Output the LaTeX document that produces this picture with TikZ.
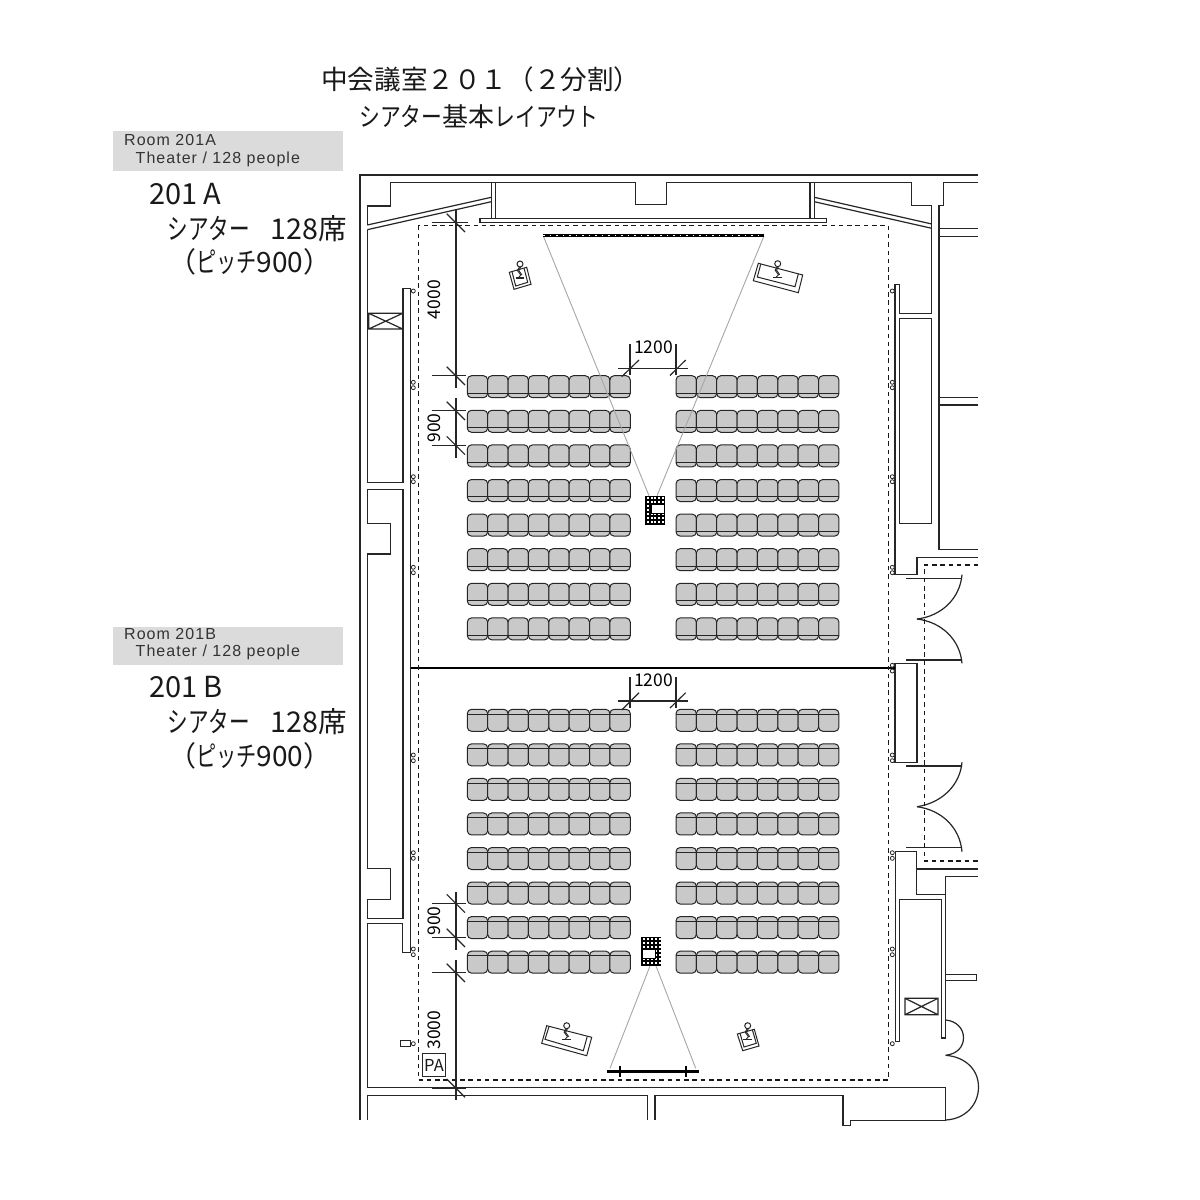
\documentclass[tikz,border=0pt]{standalone}
\usepackage{fontspec}
\setmainfont{Liberation Sans}
\newfontfamily\jpf{Noto Sans CJK JP}
\newfontfamily\jpk{Noto Sans CJK JP}[FakeStretch=0.72]
\newfontfamily\jpt{Noto Sans CJK JP}[FakeStretch=0.8]
\newfontfamily\jpn{Noto Sans CJK JP}[FakeStretch=0.72]
\newfontfamily\enf{Liberation Sans}[LetterSpace=6.5]
\newcommand{\fs}[1]{\fontsize{#1pt}{#1pt}\selectfont}
\usetikzlibrary{calc}
\tikzset{
  wall/.style={draw=black!85,line width=1.2pt,line join=miter},
  thin wall/.style={draw=black!85,line width=1pt},
  room/.style={draw=black!90,line width=1.3pt,dash pattern=on 4.5pt off 3.8pt},
  dim/.style={draw=black!85,line width=1.15pt},
  beam/.style={draw=black!35,line width=0.9pt},
  seat/.style={draw=black!85,fill=black!21,line width=1pt,rounded corners=4.2pt},
  anchorpt/.style={draw=black!85,fill=white,line width=0.8pt},
  hdr/.style={fill=black!14,draw=none},
  jp/.style={anchor=west,inner sep=0pt,font=\jpf,text=black!90},
  en/.style={anchor=west,inner sep=0pt,font=\enf\fs{16},text=black!80},
  dimtext/.style={inner sep=0pt,font=\jpf\fs{17.5},text=black},
}
\newcommand{\figperson}[2]{%
  \begin{scope}[shift={(#1,#2)}]
    \draw[thin wall,fill=white] (0,0) circle (3);
    \draw[thin wall,line width=0.9pt] (-0.5,3) -- (-2.6,6.5) -- (0.8,11) -- (-1.5,13.5);
    \draw[thin wall,line width=0.9pt] (0.7,3) -- (-1.2,6.5) -- (2,11);
    \draw[thin wall,line width=1.1pt] (-4.3,14) -- (4,14);
  \end{scope}}
\newcommand{\seatrow}[3]{% x, y top, divider offset
  \foreach \k in {0,...,7}{
    \pgfmathsetmacro{\sx}{#1+\k*20.37}
    \draw[seat] (\sx,#2) rectangle ++(20.37,22);
    \draw[thin wall] (\sx,#2+#3) -- ++(20.37,0);
  }}
\newcommand{\tick}[2]{%
  \draw[dim] (431.7,#1) -- (#2,#1);
  \draw[dim] (446.7,#1-9) -- (465,#1+9.3);}
\begin{document}
\begin{tikzpicture}[x=1pt,y=-1pt]
\useasboundingbox (0,0) rectangle (1200,1200);
\fill[white] (0,0) rectangle (1200,1200);

% outer walls
\draw[wall] (978,175) -- (360,175) -- (360,1120);
\draw[wall] (367.3,229.7) -- (367.3,482.3) -- (403,482.3) -- (403,288.3) -- (410.7,288.3) -- (410.7,952.3) -- (402.7,952.3) -- (402.7,923.3) -- (367.3,923.3) -- (367.3,1087.5) -- (945.7,1087.5);
\draw[wall] (367.3,225) -- (367.3,206) -- (390.3,206) -- (390.3,182.7) -- (635.7,182.7) -- (635.7,204.3) -- (666.3,204.3) -- (666.3,182.7) -- (911.7,182.7) -- (911.7,205.7) -- (931.7,205.7) -- (931.7,313.3) -- (899.3,313.3) -- (899.3,284.3) -- (895,284.3) -- (895,574.7) -- (917,574.7) -- (917,557.3) -- (978,557.3);
\draw[wall] (978,182.7) -- (943.3,182.7) -- (943.3,205.7) -- (939,205.7) -- (939,549.7) -- (978,549.7);
\draw[wall] (939,228.3) -- (978,228.3) (939,236.3) -- (978,236.3) (939,397.7) -- (978,397.7) (939,405) -- (978,405);
\draw[wall] (899.3,318.3) rectangle (931.7,523.3);
% left chase
\draw[wall] (367.3,489.3) -- (403,489.3) -- (403,918.3) -- (367.3,918.3) -- (367.3,899.3) -- (390.7,899.3) -- (390.7,868.7) -- (367.3,868.7) -- (367.3,554) -- (390.7,554) -- (390.7,523.3) -- (367.3,523.3) -- cycle;
\draw[wall] (368.7,313.3) rectangle (402.7,329) (368.7,313.3) -- (402.7,329) (368.7,329) -- (402.7,313.3);
% top slanted walls and screen box
\draw[wall] (367.3,225) -- (491.3,197.3) (367.3,229.7) -- (491.3,201.7);
\draw[wall] (814.3,197.3) -- (931.7,224) (814.3,201.7) -- (931.7,228.3);
\draw[wall] (491.3,182.7) -- (491.3,218.3) (495.7,182.7) -- (495.7,218.3);
\draw[wall] (810,182.7) -- (810,218.3) (814.3,182.7) -- (814.3,218.3);
\draw[wall] (480,218.3) rectangle (826.7,222.7);
% right pillars, doors
\draw[wall] (895,663.3) rectangle (917,762.3);
\draw[wall] (906,578.3) -- (962,578.3) (906,660) -- (962,660) (906,766) -- (962,766) (906,847.7) -- (962,847.7);
\draw[wall] (962,574.7) .. controls (960,598) and (942,616) .. (917,619);
\draw[wall] (917,619) .. controls (942,622) and (960,640) .. (962,663.3);
\draw[wall] (962,762.3) .. controls (960,785) and (942,803) .. (917,806.7);
\draw[wall] (917,806.7) .. controls (942,810) and (960,828) .. (962,851.7);
\draw[room] (978,565) -- (924.3,565) -- (924.3,861) -- (978,861);
% lower right
\draw[wall] (895.3,851.7) -- (895.3,1041.3) -- (899.3,1041.3) -- (899.3,899.3) -- (941.7,899.3) -- (941.7,1038) -- (945.7,1038) -- (945.7,876.3) -- (978,876.3);
\draw[wall] (895.3,851.7) -- (916.5,851.7) -- (916.5,894.3) -- (945.7,894.3) (916.5,869) -- (978,869);
\draw[wall] (945.7,974.3) rectangle (976.7,980.3);
\draw[wall] (905,998.3) rectangle (938,1014.7) (905,998.3) -- (938,1014.7) (905,1014.7) -- (938,998.3);
\draw[wall] (945.7,1020) .. controls (957,1021) and (963.5,1029) .. (963.5,1037.7) .. controls (963.5,1047) and (957,1054) .. (945.7,1055.3);
\draw[wall] (945.7,1055.3) .. controls (966,1057) and (978.5,1070) .. (978.5,1087) .. controls (978.5,1105) and (965,1119) .. (945.7,1120);
\draw[wall] (945.7,1087.5) -- (945.7,1120.5) -- (850.7,1120.5) -- (850.7,1125.7) -- (843,1125.7) -- (843,1095.3) -- (655,1095.3) -- (655,1120);
\draw[wall] (367.3,1120) -- (367.3,1095.3) -- (647.7,1095.3) -- (647.7,1120);

% partition
\draw[draw=black,line width=1.8pt] (410.7,668.3) -- (895,668.3);
% room outline
\draw[room] (418.3,225.3) rectangle (888.3,1080);

% wall anchors
\foreach \y in {291,382.3,387.7,476.7,481.7,567.3,572.7,755,760.7,852.7,858.3,949,954.7,1043.7}{
  \draw[anchorpt] (413.3,\y) circle (2);
  \draw[anchorpt] (892.3,\y) circle (2);}
\foreach \y in {665.3,671}{\draw[anchorpt] (892.3,\y) circle (2);}

% seats
\foreach \r in {0,...,7}{
  \pgfmathsetmacro{\ya}{375.7+\r*34.6}
  \pgfmathsetmacro{\yb}{709.3+\r*34.55}
  \seatrow{467.3}{\ya}{17.3}
  \seatrow{676}{\ya}{17.3}
  \seatrow{467.3}{\yb}{4.7}
  \seatrow{676}{\yb}{4.7}
}

% screens and projection beams
\draw[beam] (543.3,236) -- (649,495.7) (764,236) -- (657,495.7);
\draw[beam] (650,966) -- (610,1068.3) (656,966) -- (695.7,1068.3);
\draw[draw=black,line width=2.8pt] (543.3,235.7) -- (764,235.7);
\draw[draw=white,line width=0.7pt,dash pattern=on 1.5pt off 5pt] (543.3,235.7) -- (764,235.7);
\draw[draw=black,line width=3pt] (607.3,1071.3) -- (699,1071.3);
\draw[draw=black,line width=2pt] (620,1065.7) -- (620,1077.3) (685.7,1065.7) -- (685.7,1077.3);

% projectors
\fill[black] (645,495.7) rectangle (665,525);
\foreach \i in {0,...,4}{\foreach \j in {0,...,6}{
  \fill[white] (646.6+\i*3.9,497.4+\j*3.95) rectangle ++(2,2);}}
\draw[draw=black,fill=white,line width=1pt] (651.7,504) rectangle (664.3,513.3);
\fill[black] (641.3,936.7) rectangle (661.3,966);
\foreach \i in {0,...,4}{\foreach \j in {0,...,6}{
  \fill[white] (642.9+\i*3.9,938.4+\j*3.95) rectangle ++(2,2);}}
\draw[draw=black,fill=white,line width=1pt] (642.9,949) rectangle (655.7,958.3);

% tables with speakers
\draw[thin wall] (509.3,272.3) -- (526.7,267.3) -- (531,284.3) -- (514,289.3) -- cycle;
\draw[thin wall] (512,271.7) -- (515.7,286) -- (527.7,282.3) -- (524,268);
\figperson{520}{264}
\draw[thin wall] (758.3,263.3) -- (802.7,275) -- (798.3,292.7) -- (753.3,280.7) -- cycle;
\draw[thin wall] (760.7,264.3) -- (757.3,277) -- (795,286.7) -- (798.3,274);
\figperson{777.7}{263.7}
\draw[thin wall] (546.7,1025.7) -- (591.7,1037.3) -- (586.7,1055.7) -- (541.7,1043.3) -- cycle;
\draw[thin wall] (549,1026.7) -- (545,1039.3) -- (583.3,1050.7) -- (587.3,1036.3);
\figperson{566.7}{1025.7}
\draw[thin wall] (737.3,1034) -- (754.3,1029.3) -- (759,1046) -- (742.7,1050.7) -- cycle;
\draw[thin wall] (740,1033.3) -- (744,1047) -- (756.3,1043.3) -- (752.3,1029.7);
\figperson{747.7}{1025.7}

% PA
\draw[thin wall] (400,1040.7) rectangle (410,1046.7);
\draw[thin wall] (422.3,1053.3) rectangle (445.7,1076.3);
\node[inner sep=0pt,font=\jpf\fs{16.5},text=black!90] (pa) at (434,1065.5) {PA};

% dimensions
\draw[dim] (456,210) -- (456,388.3);
\tick{222.7}{468.3}
\tick{375.7}{465.7}
\draw[dim] (456,398.3) -- (456,457.7);
\tick{410.7}{465.7}
\tick{445.3}{465.7}
\draw[dim] (630,344) -- (630,375) (676,344) -- (676,375) (617.7,368.3) -- (688.3,368.3);
\draw[dim] (639,360) -- (621.7,376.7) (685.7,360) -- (670,375.5);
\draw[dim] (630,676.7) -- (630,708.3) (676,676.7) -- (676,708.3) (617.7,701) -- (688.3,701);
\draw[dim] (639,692.7) -- (621.7,710) (685.7,692.7) -- (670,708);
\draw[dim] (456,891.7) -- (456,950);
\tick{903.3}{465.7}
\tick{937.7}{465.7}
\draw[dim] (456,960) -- (456,1100);
\tick{972.7}{465.7}
\tick{1088}{465.7}
\node[dimtext,rotate=90] (d4000) at (434,299.7) {4000};
\node[dimtext,rotate=90] (d900a) at (434,428) {900};
\node[dimtext,rotate=90] (d900b) at (434,921) {900};
\node[dimtext,rotate=90] (d3000) at (434,1030) {3000};
\node[dimtext] (d1200a) at (653.5,347) {1200};
\node[dimtext] (d1200b) at (653.5,680) {1200};

% titles
\node[jp,font=\jpf\fs{26.6}] (title1) at (321,79) {中会議室２０１（２分割）};
\node[jp,font=\jpf\fs{26}] (title2) at (359,117) {{\jpt シアター}基本{\jpt レイアウト}};

% room A label
\fill[hdr] (113,131) rectangle (343,171);
\node[en] (a1) at (124,139.5) {Room 201A};
\node[en] (a2) at (135.5,159.5) {Theater / 128 people};
\node[jp,font=\jpf\fs{29}] (a3) at (149,194) {201 A};
\node[jp,font=\jpf\fs{28.6}] (a4) at (167.5,229) {{\jpk シアター　}128席};
\node[jp,font=\jpf\fs{28}] (a5) at (168,262) {（{\jpn ピッチ}900）};

% room B label
\fill[hdr] (113,627) rectangle (343,665);
\node[en] (b1) at (124,633.5) {Room 201B};
\node[en] (b2) at (135.5,652.5) {Theater / 128 people};
\node[jp,font=\jpf\fs{29}] (b3) at (149,687) {201 B};
\node[jp,font=\jpf\fs{28.6}] (b4) at (167.5,722) {{\jpk シアター　}128席};
\node[jp,font=\jpf\fs{28}] (b5) at (168,756) {（{\jpn ピッチ}900）};
\end{tikzpicture}
\end{document}
